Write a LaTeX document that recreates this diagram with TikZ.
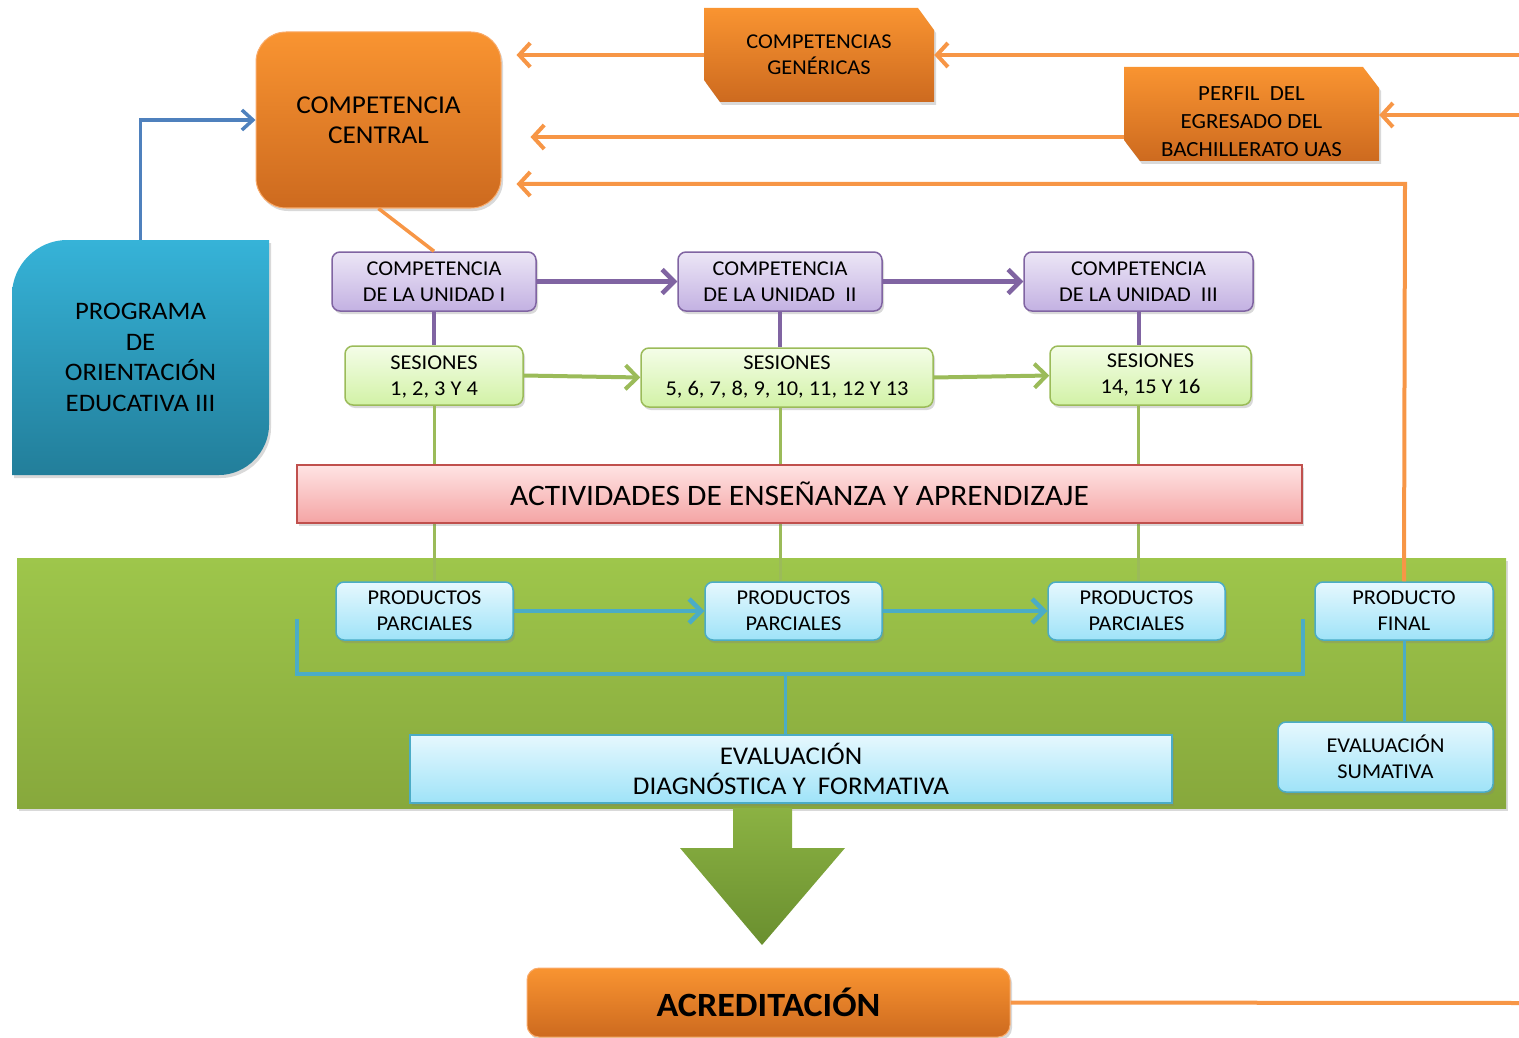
\documentclass[tikz,border=0pt]{standalone}
\usepackage{fontspec}
\setmainfont{Carlito}[FakeStretch=1.06]
\usetikzlibrary{arrows.meta,shadows}
\definecolor{orTop}{HTML}{F99431}
\definecolor{orBot}{HTML}{CD6A1F}
\definecolor{orLine}{HTML}{F79646}
\definecolor{tealTop}{HTML}{36B3D8}
\definecolor{tealBot}{HTML}{227E9A}
\definecolor{progBlue}{HTML}{4F81BD}
\definecolor{puTop}{HTML}{ECE6F6}
\definecolor{puBot}{HTML}{C3B1E2}
\definecolor{puLine}{HTML}{8064A2}
\definecolor{grTop}{HTML}{F4FDE8}
\definecolor{grBot}{HTML}{D2F2A6}
\definecolor{grLine}{HTML}{9BBB59}
\definecolor{pkTop}{HTML}{FFE4E4}
\definecolor{pkBot}{HTML}{F4A4A4}
\definecolor{pkLine}{HTML}{C0504D}
\definecolor{bandTop}{HTML}{9EC64B}
\definecolor{bandBot}{HTML}{87A83C}
\definecolor{ltTop}{HTML}{E6F8FE}
\definecolor{ltBot}{HTML}{9FE3F8}
\definecolor{ltLine}{HTML}{4BACC6}
\definecolor{arrTop}{HTML}{8BB243}
\definecolor{arrBot}{HTML}{6A8F2F}
\begin{document}
\begin{tikzpicture}[x=1pt,y=-1pt,
  base/.style={rectangle,inner sep=0pt,align=center,text=black},
  shad/.style={drop shadow={opacity=0.3,shadow xshift=2pt,shadow yshift=-3pt}},
  orbox/.style={base,shad,top color=orTop,bottom color=orBot,draw=orLine!80,line width=1pt},
  orfill/.style={top color=orTop,bottom color=orBot,shad},
  pubox/.style={base,shad,rounded corners=8pt,top color=puTop,bottom color=puBot,draw=puLine,line width=1.5pt},
  grbox/.style={base,shad,rounded corners=8pt,top color=grTop,bottom color=grBot,draw=grLine,line width=1.5pt},
  ltbox/.style={base,shad,rounded corners=8pt,top color=ltTop,bottom color=ltBot,draw=ltLine,line width=1.5pt},
  sq/.style={base,shad,top color=ltTop,bottom color=ltBot,draw=ltLine,line width=1.5pt},
  orarrow/.style={draw=orLine,line width=4pt,-{Straight Barb[length=11pt,width=24pt,line width=4pt]}},
  puarrow/.style={draw=puLine,line width=4.5pt,-{Straight Barb[length=12pt,width=24pt,line width=4.5pt]}},
  grarrow/.style={draw=grLine,line width=4pt,-{Straight Barb[length=12pt,width=24pt,line width=4pt]}},
  ltarrow/.style={draw=ltLine,line width=4.5pt,-{Straight Barb[length=12pt,width=24pt,line width=4.5pt]}},
  f22/.style={font=\fontsize{21.1}{26}\selectfont},
]
\useasboundingbox (0,0) rectangle (1519,1038);

% green band
\node[base,shad,top color=bandTop,bottom color=bandBot,minimum width=1489pt,minimum height=250pt] (band) at (761.5,683) {};

% programa shape
\path[top color=tealTop,bottom color=tealBot,shad]
  (12,475) -- (12,295) .. controls (12,265) and (37,240) .. (67,240) -- (269,240) -- (269,425)
  .. controls (269,452) and (246,475) .. (219,475) -- cycle;
\node[base,minimum width=257pt,minimum height=235pt,font=\fontsize{25.2}{30.5}\selectfont] (prog) at (140.5,357.5)
  {PROGRAMA\\DE\\ORIENTACIÓN\\EDUCATIVA III};

% central
\node[orbox,rounded corners=30pt,minimum width=245pt,minimum height=176pt,font=\fontsize{25.7}{30}\selectfont] (cc) at (378.5,120)
  {COMPETENCIA\\CENTRAL};

% top orange boxes (chamfered)
\path[orfill] (704,8) -- (918,8) -- (934,30) -- (934,102) -- (720,102) -- (704,80) -- cycle;
\node[base,minimum width=230pt,minimum height=94pt,f22] (gen) at (819,55) {COMPETENCIAS\\GENÉRICAS};
\path[orfill] (1124,67) -- (1363,67) -- (1379,88) -- (1379,161) -- (1140,161) -- (1124,140) -- cycle;
\node[base,minimum width=255pt,minimum height=94pt] (perf) at (1251.5,114) {};
\node[base,font=\fontsize{21.6}{28}\selectfont] (perftext) at (1251.5,122)
  {PERFIL\ \ DEL\\EGRESADO DEL\\BACHILLERATO UAS};

\coordinate (r1) at (1519,55);
\coordinate (r2) at (1519,115);
\draw[orarrow] (r1) -- (gen.east |- r1);
\draw[orarrow,shorten >=15pt] (gen.west) -- (cc.east |- gen.west);
\draw[orarrow] (r2) -- (perf.east |- r2);
\coordinate (pl) at (1124,137);
\draw[orarrow,shorten >=29pt] (pl) -- (cc.east |- pl);

% blue arrow
\draw[draw=progBlue,line width=3.5pt,-{Straight Barb[length=11pt,width=20pt,line width=3.5pt]}]
  (prog.north) |- (cc.west);

% unit competencies
\node[pubox,minimum width=204pt,minimum height=59pt,f22] (u1) at (434,281.5) {COMPETENCIA\\DE LA UNIDAD I};
\node[pubox,minimum width=204pt,minimum height=59pt,f22] (u2) at (780,281.5) {COMPETENCIA\\DE LA UNIDAD\ \ II};
\node[pubox,minimum width=229pt,minimum height=59pt,f22] (u3) at (1138.5,281.5) {COMPETENCIA\\DE LA UNIDAD\ \ III};
\draw[draw=orLine,line width=3.5pt] (cc.south) -- (u1.north);
\draw[puarrow] (u1.east) -- (u2.west);
\draw[puarrow] (u2.east) -- (u3.west);

% sessions
\node[grbox,minimum width=178pt,minimum height=59pt,f22,text depth=-2pt] (s1) at (434,375.5) {SESIONES\\1, 2, 3 Y 4};
\node[grbox,minimum width=292pt,minimum height=59pt,f22] (s2) at (787,377.5) {SESIONES\\5, 6, 7, 8, 9, 10, 11, 12 Y 13};
\node[grbox,minimum width=201pt,minimum height=59pt,f22] (s3) at (1150.5,375.5) {SESIONES\\14, 15 Y 16};
\draw[draw=puLine,line width=4pt] (u1.south) -- (s1.north);
\draw[draw=puLine,line width=4pt] (u2.south) -- (u2.south |- s2.north);
\draw[draw=puLine,line width=4pt] (u3.south) -- (u3.south |- s3.north);
\draw[grarrow] (s1.east) -- (s2.west);
\draw[grarrow] (s2.east) -- (s3.west);

% products
\node[ltbox,minimum width=177pt,minimum height=58pt,f22] (p1) at (424.5,611) {PRODUCTOS\\PARCIALES};
\node[ltbox,minimum width=177pt,minimum height=58pt,f22] (p2) at (793.5,611) {PRODUCTOS\\PARCIALES};
\node[ltbox,minimum width=177pt,minimum height=58pt,f22] (p3) at (1136.5,611) {PRODUCTOS\\PARCIALES};
\node[ltbox,minimum width=178pt,minimum height=58pt,f22] (pf) at (1404,611) {PRODUCTO\\FINAL};

% vertical green lines behind activities
\draw[draw=grLine,line width=3pt] (s1.south) -- (s1.south |- p1.north);
\draw[draw=grLine,line width=3pt] (u2.south |- s2.south) -- (u2.south |- p2.north);
\draw[draw=grLine,line width=3pt] (u3.south |- s3.south) -- (u3.south |- p3.north);

% activities
\node[base,shad,top color=pkTop,bottom color=pkBot,draw=pkLine,line width=1.5pt,minimum width=1005pt,minimum height=58pt,
  font=\fontsize{29.7}{34}\selectfont] (act) at (799.5,494) {ACTIVIDADES DE ENSEÑANZA Y APRENDIZAJE};

\draw[ltarrow] (p1.east) -- (p2.west);
\draw[ltarrow] (p2.east) -- (p3.west);

% producto final feedback
\coordinate (fb) at (1405,184);
\draw[orarrow,shorten >=15pt] (pf.north) -- (fb) -- (cc.east |- fb);

% evaluations
\node[sq,minimum width=762pt,minimum height=68pt,font=\fontsize{25.5}{30}\selectfont] (ed) at (791,769)
  {EVALUACIÓN\\DIAGNÓSTICA Y\ \ FORMATIVA};
\node[ltbox,minimum width=215pt,minimum height=70pt,f22] (es) at (1385.5,757) {EVALUACIÓN\\SUMATIVA};
\draw[draw=ltLine,line width=3pt] (pf.south) -- (pf.south |- es.north);

\coordinate (bl) at (297,619);
\coordinate (br) at (1303,619);
\coordinate (bm) at (785,674);
\draw[draw=ltLine,line width=4pt,line join=miter] (bl) -- (bl |- bm) -- (br |- bm) -- (br);
\draw[draw=ltLine,line width=3pt] (bm) -- (bm |- ed.north);

% accreditation
\node[orbox,rounded corners=12pt,minimum width=483pt,minimum height=69pt,font=\fontsize{34}{38}\selectfont\bfseries] (acr) at (768.5,1002.5) {ACREDITACIÓN};
\coordinate (ar) at (1519,1003);
\draw[draw=orLine,line width=4pt] (acr.east) -- (ar);

% big arrow
\path[top color=arrTop,bottom color=arrBot] (733,808) -- (792,808) -- (792,848) -- (845,848) -- (762,945)
  -- (680,848) -- (733,848) -- cycle;
\end{tikzpicture}
\end{document}
